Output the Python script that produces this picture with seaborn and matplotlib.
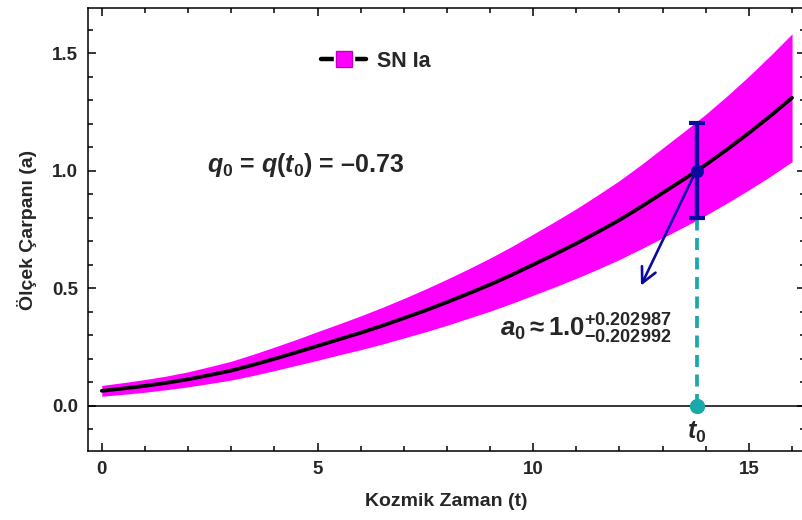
import numpy as np
import pandas as pd
import matplotlib
matplotlib.use("Agg")
import matplotlib.pyplot as plt
import seaborn as sns
from matplotlib.lines import Line2D

# ---- data ----
t_values = [0, 0.5, 1, 1.5, 2, 2.5, 3, 3.5, 4, 4.5, 5, 5.5, 6, 6.5, 7, 7.5, 8,
            8.5, 9, 9.5, 10, 10.5, 11, 11.5, 12, 12.5, 13, 13.5, 14, 14.5, 15,
            15.5, 16]
a_values = [0.063, 0.073, 0.084, 0.097, 0.112, 0.130, 0.149, 0.173, 0.199,
            0.226, 0.254, 0.282, 0.31, 0.340, 0.372, 0.405, 0.44, 0.477, 0.515,
            0.556, 0.60, 0.644, 0.69, 0.739, 0.79, 0.846, 0.905, 0.964, 1.025,
            1.091, 1.16, 1.233, 1.31]
a_upper = [0.086, 0.098, 0.111, 0.126, 0.144, 0.166, 0.189, 0.218, 0.249,
           0.281, 0.315, 0.348, 0.382, 0.418, 0.456, 0.496, 0.538, 0.582,
           0.628, 0.677, 0.730, 0.783, 0.838, 0.897, 0.958, 1.025, 1.096,
           1.167, 1.240, 1.319, 1.402, 1.490, 1.582]
a_lower = [0.040, 0.048, 0.057, 0.068, 0.080, 0.094, 0.109, 0.128, 0.149,
           0.171, 0.193, 0.216, 0.238, 0.262, 0.288, 0.314, 0.342, 0.372,
           0.402, 0.435, 0.470, 0.505, 0.542, 0.581, 0.622, 0.667, 0.714,
           0.761, 0.810, 0.863, 0.918, 0.976, 1.038]
t0 = 13.8
a0 = 1.0
a0_err_plus = 0.202987
a0_err_minus = 0.202992
arrow_tip = (12.47, 0.50)
series_label = "SN Ia"
q0_text = r"$q_0$ = $q(t_0)$ = –0.73"
a0_text = r"$a_0 \approx 1.0^{+0.202987}_{-0.202992}$"
x_ticks = [0, 5, 10, 15]
y_ticks = [0.0, 0.5, 1.0, 1.5]

df = pd.DataFrame({"t": t_values, "a": a_values, "lo": a_lower, "hi": a_upper})

sns.set_theme(style="ticks")
plt.rcParams["font.family"] = ["Liberation Sans", "DejaVu Sans"]
plt.rcParams["font.weight"] = "bold"
plt.rcParams["mathtext.fontset"] = "custom"
plt.rcParams["mathtext.rm"] = "Liberation Sans:bold"
plt.rcParams["mathtext.it"] = "Liberation Sans:italic:bold"
plt.rcParams["mathtext.bf"] = "Liberation Sans:bold"
plt.rcParams["mathtext.fallback"] = "stixsans"

fig = plt.figure(figsize=(8.02, 5.2), dpi=100)
ax = fig.add_axes([88 / 802, (520 - 451) / 520, 717 / 802, 443 / 520])

magenta = "#ff00ff"
navy = "#0a0aa0"
teal = "#1aa8a8"

ax.fill_between(df["t"], df["lo"], df["hi"], color=magenta, lw=0, zorder=1)
sns.lineplot(data=df, x="t", y="a", color="black", lw=2.7, ax=ax, zorder=3,
             legend=False)

ax.axhline(0, color="black", lw=1.1, zorder=2)

# cyan dashed line and dot at t0
ax.plot([t0, t0], [0, a0 - a0_err_minus], color=teal, lw=2.7,
        dashes=(3.2, 2.0), zorder=4)
ax.plot([t0], [0], "o", color=teal, ms=10, zorder=5, clip_on=False)

# error bar at t0
ax.errorbar([t0], [a0], yerr=[[a0_err_minus], [a0_err_plus]], fmt="o",
            color=navy, ms=8.5, elinewidth=3.2, capsize=5.5, capthick=3.0,
            zorder=6)

# hand-drawn style arrow
ax.annotate("", xy=arrow_tip, xytext=(t0 - 0.05, a0 - 0.01),
            arrowprops=dict(arrowstyle="->,head_length=0.9,head_width=0.45",
                            color=navy, lw=1.9), zorder=6)

ax.text(2.44, 0.993, q0_text, fontsize=18, fontweight="bold",
        ha="left", va="baseline")
ax.text(9.23, 0.326, a0_text, fontsize=18.5, ha="left", va="center")
ax.text(t0, -0.115, r"$t_0$", fontsize=18, ha="center", va="center")

# legend
h_line = Line2D([], [], color="black", lw=3.2)
h_gap = Line2D([], [], ls="none", marker="s", ms=15, mfc="white", mec="white")
h_mark = Line2D([], [], ls="none", marker="s", ms=12, mfc=magenta,
                mec="#c000c0", mew=1.0)
leg = ax.legend([(h_line, h_gap, h_mark)], [series_label], loc="center left",
                bbox_to_anchor=(0.298, 0.880), frameon=False,
                handlelength=2.1, handletextpad=0.5,
                prop=dict(weight="bold", size=15.5))

ax.set_xlim(-0.32, 16.3)
ax.set_ylim(-0.193, 1.692)
ax.set_xticks(x_ticks)
ax.set_yticks(y_ticks)
ax.set_xticklabels([str(v) for v in x_ticks])
ax.set_yticklabels([f"{v:.1f}" for v in y_ticks])
ax.xaxis.set_minor_locator(matplotlib.ticker.MultipleLocator(1))
ax.yaxis.set_minor_locator(matplotlib.ticker.MultipleLocator(0.1))
ax.tick_params(which="both", direction="in", top=True, right=True,
               width=1.1, color="black")
ax.tick_params(which="major", length=6, labelsize=13.5, pad=7)
ax.tick_params(which="minor", length=3.5)
for lab in ax.get_xticklabels() + ax.get_yticklabels():
    lab.set_fontweight("bold")
for s in ax.spines.values():
    s.set_linewidth(1.1)
    s.set_color("black")

ax.set_xlabel("Kozmik Zaman (t)", fontsize=14, fontweight="bold", labelpad=11)
ax.set_ylabel("Ölçek Çarpanı (a)", fontsize=14, fontweight="bold", labelpad=11)

fig.savefig("out.png", dpi=100, facecolor="white")
